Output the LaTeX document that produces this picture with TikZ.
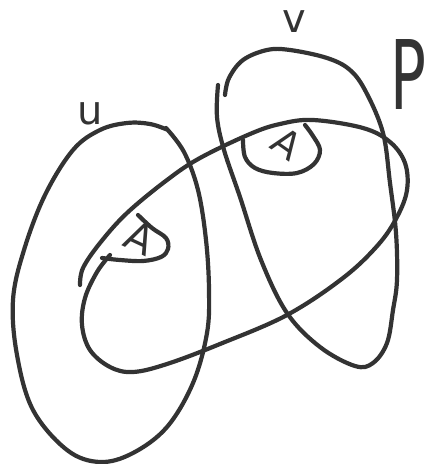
\documentclass[tikz,border=0pt]{standalone}
\usepackage{fontspec}
\setmainfont{DejaVu Sans}
\definecolor{ink}{HTML}{333333}
\tikzset{
  pen/.style={draw=ink, line width=4.2pt, line cap=round, line join=round},
  hand/.style={text=ink, inner sep=0pt},
}
\begin{document}
\begin{tikzpicture}[x=1pt,y=-1pt]
\useasboundingbox (0,0) rectangle (429,464);
% set u
\draw[pen] plot[smooth, tension=0.6] coordinates {
 (168,130) (150,124) (127,123) (100,130) (73,150) (45,195) (24,250) (13,300) (17,355) (33,410)
 (67,450) (100,462) (133,453) (167,427) (193,383) (207,333) (209,290) (206,240) (198,190) (184,152) (166,128)};
% set v
\draw[pen] plot[smooth, tension=0.6] coordinates {
 (225,95) (229,78) (243,60) (267,50) (290,50) (327,58) (350,70) (366,92) (383,133) (390,183)
 (396,233) (397,280) (393,310) (387,343) (373,363) (355,366) (320,347) (287,313) (261,260)
 (240,197) (224,150) (217,117) (218,85)};
% set P
\draw[pen] plot[smooth, tension=0.6] coordinates {
 (80,285) (83,268) (100,243) (127,213) (167,180) (200,158) (250,134) (280,124) (313,120)
 (363,128) (390,142) (405,163) (407,190) (397,217) (378,245) (343,278) (287,315) (220,344)
 (167,364) (133,372) (110,367) (90,350) (82,325) (85,298) (97,272) (110,255)};
% small loop 1
\draw[pen] plot[smooth, tension=0.6] coordinates {
 (138,215) (152,228) (166,238) (168,249) (161,257) (143,261) (120,260) (102,258)};
% small loop 2
\draw[pen] plot[smooth, tension=0.6] coordinates {
 (243,140) (245,157) (255,168) (273,173) (297,173) (314,164) (320,150) (313,136) (305,125)};
% labels
\node[hand, font=\fontsize{40}{40}\selectfont, rotate=-25] (la1) at (140,238) {A};
\node[hand, font=\fontsize{38}{38}\selectfont, rotate=-35] (la2) at (287,144) {A};
\node[hand, font=\fontsize{40}{40}\selectfont] (lu) at (90,114) {u};
\node[hand, font=\fontsize{40}{40}\selectfont] (lv) at (294,22) {v};
\node[hand, font=\fontsize{96}{96}\selectfont, xscale=0.62, anchor=south west] (lp) at (390,110) {P};
\end{tikzpicture}
\end{document}
